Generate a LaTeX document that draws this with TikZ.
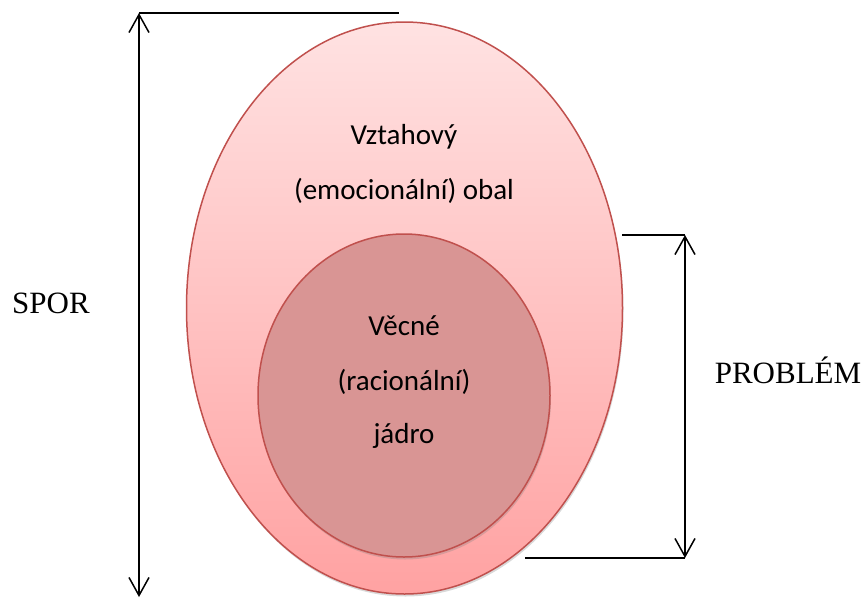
\documentclass[tikz,border=0pt]{standalone}
\usepackage{fontspec}
\setmainfont{Liberation Serif}
\newfontfamily\calib{Carlito}
\usetikzlibrary{shapes.geometric,shadows,arrows.meta}
\definecolor{rimred}{HTML}{C0504D}
\definecolor{outertop}{HTML}{FFE2E2}
\definecolor{outerbot}{HTML}{FFA2A2}
\definecolor{corefill}{HTML}{D99594}
\tikzset{
  blob/.style={ellipse, inner sep=0pt, draw=rimred, line width=1.5pt,
    drop shadow={opacity=0.3, shadow xshift=1pt, shadow yshift=-2.5pt}},
  intext/.style={font=\calib\fontsize{29}{33}\selectfont, anchor=base, inner sep=0pt},
  outtext/.style={font=\fontsize{31}{35}\selectfont, anchor=base, inner sep=0pt},
  dim/.style={line width=1.5pt, black},
  dimarrow/.style={dim, {Straight Barb[length=18pt,width=20pt,line width=1.5pt]}-{Straight Barb[length=18pt,width=20pt,line width=1.5pt]}}
}
\begin{document}
\begin{tikzpicture}[x=1pt,y=-1pt]
\useasboundingbox (0,0) rectangle (865,598);
% outer ellipse
\node[blob, minimum width=436pt, minimum height=572pt, top color=outertop, bottom color=outerbot] (outer) at (404.5,308) {};
% inner ellipse
\node[blob, minimum width=292pt, minimum height=323pt, fill=corefill] (core) at (404,395.5) {};
% texts
\node[intext] (t1) at (404,144) {Vztahový};
\node[intext] (t2) at (404,199) {(emocionální) obal};
\node[intext] (t3) at (404,335) {Věcné};
\node[intext] (t4) at (404,390) {(racionální)};
\node[intext] (t5) at (404,443) {jádro};
\node[outtext] (spor) at (51,313) {SPOR};
\node[outtext] (prob) at (788,383) {PROBLÉM};
% SPOR dimension
\coordinate (sT) at (139,13);
\coordinate (sB) at (139,597);
\coordinate (sE) at (399,13);
\draw[dim] (sT) -- (sE);
\draw[dimarrow] (sB) -- (sT);
% PROBLEM dimension
\coordinate (pT) at (685,235);
\coordinate (pB) at (685,558);
\coordinate (pTs) at (622,235);
\coordinate (pBs) at (525,558);
\draw[dim] (pTs) -- (pT);
\draw[dim] (pBs) -- (pB);
\draw[dimarrow] (pB) -- (pT);
\end{tikzpicture}
\end{document}
